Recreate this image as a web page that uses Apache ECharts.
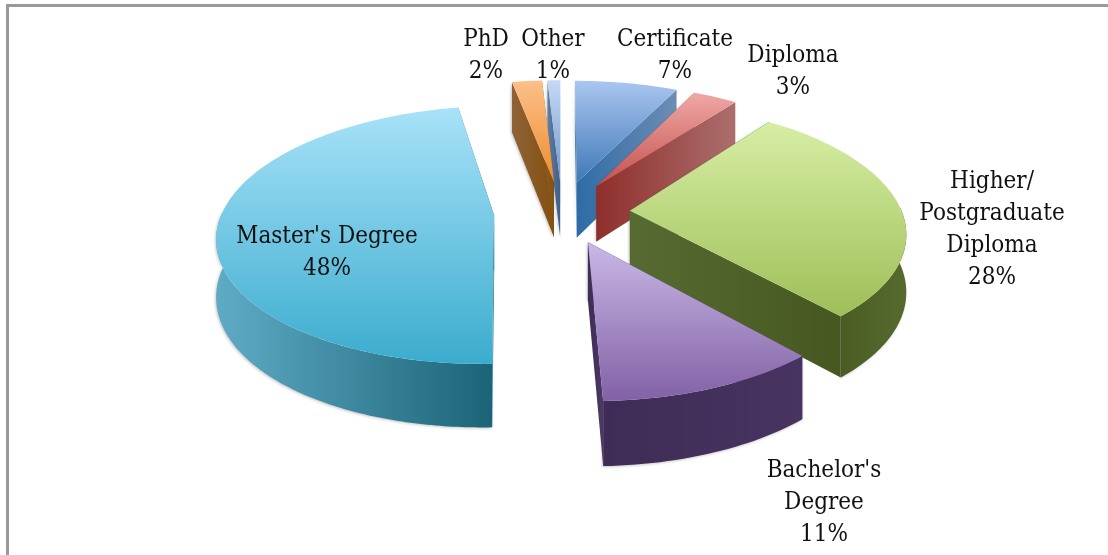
<!DOCTYPE html>
<html><head><meta charset="utf-8">
<style>html,body{margin:0;padding:0;background:#fff}#c{width:1108px;height:555px;filter:blur(0.5px)}
#f{position:absolute;left:6px;top:4px;width:1200px;height:700px;border:3px solid #9a9a9a;box-sizing:border-box}
body{overflow:hidden}</style>
<script src="https://cdn.jsdelivr.net/npm/echarts@6/dist/echarts.min.js"></script>
</head><body><div id="f"></div><div id="c" style="position:absolute;left:0;top:0"></div>
<script>
const categories = ['Certificate','Diploma','Higher/\nPostgraduate\nDiploma',"Bachelor's\nDegree","Master's Degree",'PhD','Other'];
const values = [7.2,3.1,28.2,11,47.5,2.1,0.9];

const labelPos = [[675,24],[793,40],[992,166],[824,455],[327,221],[486,24],[553,24]];
const palette = [
  {top:['#aac6f0','#3f78b8'],wall:['#2f6aa0','#6f8fb6'],edge:['#2e6ca6','#6e8db4']},
  {top:['#f0a8a6','#c4504c'],wall:['#8f2f2c','#a96a68'],edge:['#8f2f2c','#ab6e6c']},
  {top:['#d6eea4','#9fbf58'],wall:['#4a5c22','#566a2e'],edge:['#566a32','#46581f']},
  {top:['#c9b8e6','#8261a6'],wall:['#3e2b56','#483460'],edge:['#3e2b56','#4c3866']},
  {top:['#a8e2f8','#3bacce'],wall:['#5fabc6','#1b6478'],edge:['#2a8aa8','#1b6478']},
  {top:['#fcc08a','#ee8c2c'],wall:['#8a5a2e','#8a4f16'],edge:['#8f6238','#84500f']},
  {top:['#c6d9f4','#6f95cc'],wall:['#4a6a90','#3f5f88'],edge:['#5f7fa6','#3f5f88']}
];
const cx = 562, cy = 212, R = 272, gap = 68, depth = 56.6, persp = 0.00055, tilt = 0.46, depthPersp = 0.69;

const total = values.reduce((a,b)=>a+b,0);
function proj(x,z,h){ const s = 1/(1 - z*persp); return [cx + x*s, cy + z*tilt*s + h*Math.pow(s,depthPersp)]; }
function vgrad(c){ return {type:'linear',x:0,y:0,x2:0,y2:1,colorStops:[{offset:0,color:c[0]},{offset:1,color:c[1]}]}; }
function hgrad(c){ return {type:'linear',x:0,y:0,x2:1,y2:0,colorStops:[{offset:0,color:c[0]},{offset:1,color:c[1]}]}; }

function renderItem(params){
  const i = params.dataIndex;
  let before = 0; for(let k=0;k<i;k++) before += values[k];
  const a0 = before/total*2*Math.PI, a1 = (before+values[i])/total*2*Math.PI, mid=(a0+a1)/2;
  const ox = gap*Math.sin(mid), oz = -gap*Math.cos(mid);
  const pt = (a,r,h)=>proj(ox+r*Math.sin(a), oz-r*Math.cos(a), h);
  const n = Math.max(4,Math.ceil((a1-a0)*40));
  const topArc=[];
  for(let k=0;k<=n;k++){ topArc.push(pt(a0+(a1-a0)*k/n,R,0)); }
  // the rim is only seen on the part of the arc that faces the viewer
  const f0 = Math.max(a0,Math.PI/2-0.03), f1 = Math.min(a1,Math.PI*1.5+0.03);
  const rimT=[], rimB=[];
  if(f1>f0){ for(let k=0;k<=n;k++){ const a=f0+(f1-f0)*k/n; rimT.push(pt(a,R,0)); rimB.push(pt(a,R,depth)); } }
  const apexT = pt(0,0,0), apexB = pt(0,0,depth);
  const base = Math.round(oz+100)*10;
  const p = palette[i];
  const shadow = {shadowColor:'rgba(70,70,70,0.3)',shadowBlur:3,shadowOffsetX:-1,shadowOffsetY:1};
  const kids = [
    {type:'polygon',z2:base,shape:{points:[apexT,pt(a0,R,0),pt(a0,R,depth),apexB]},style:Object.assign({fill:hgrad(p.edge)},shadow)},
    {type:'polygon',z2:base+1,shape:{points:[apexT,pt(a1,R,0),pt(a1,R,depth),apexB]},style:{fill:hgrad(p.edge)}}
  ];
  if(rimT.length) kids.push({type:'polygon',z2:base+2,shape:{points:rimT.concat(rimB.slice().reverse())},style:Object.assign({fill:hgrad(p.wall)},shadow)});
  kids.push({type:'polygon',z2:base+3,shape:{points:[apexT].concat(topArc)},style:{fill:vgrad(p.top)}});
  kids.push({type:'text',z2:5000,style:{text:categories[i]+'\n'+Math.round(values[i])+'%',x:labelPos[i][0],y:labelPos[i][1],
      align:'center',verticalAlign:'top',font:'24px "DejaVu Serif Condensed"',lineHeight:32,fill:'#111'}});
  return {type:'group',children:kids};
}

const chart = echarts.init(document.getElementById('c'),null,{renderer:'canvas'});
chart.setOption({animation:false,series:[{type:'custom',coordinateSystem:'none',renderItem,data:values.map((v,i)=>[i,v])}]});
</script></body></html>
